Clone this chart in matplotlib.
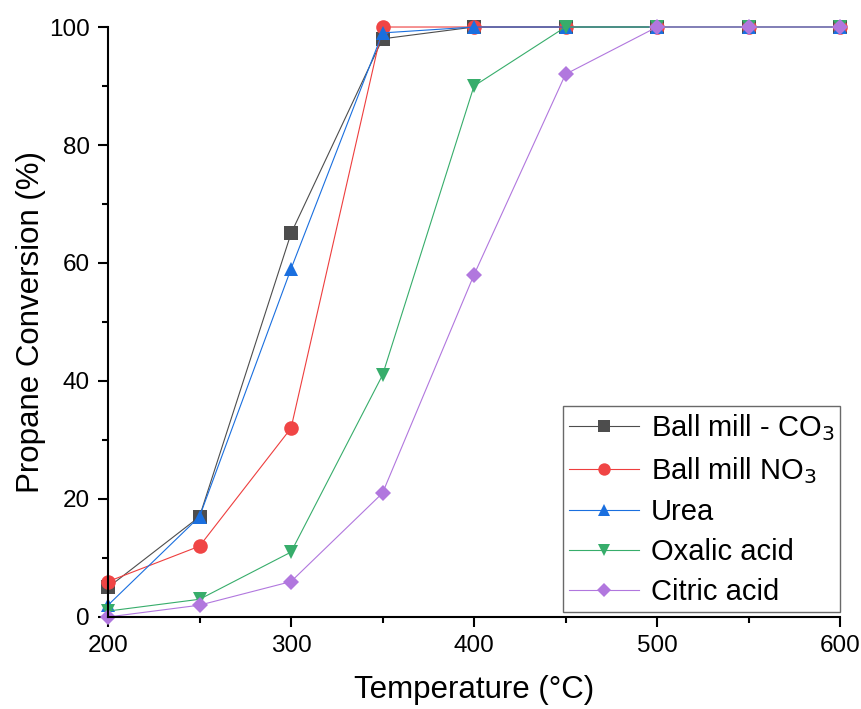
import matplotlib
matplotlib.use("Agg")
import matplotlib.pyplot as plt
from matplotlib.ticker import MultipleLocator

plt.rcParams['font.family'] = ['Liberation Sans', 'DejaVu Sans']

temperature = [200, 250, 300, 350, 400, 450, 500, 550, 600]
ball_mill_co3 = [5, 17, 65, 98, 100, 100, 100, 100, 100]
ball_mill_no3 = [6, 12, 32, 100, 100, 100, 100, 100, 100]
urea = [2, 17, 59, 99, 100, 100, 100, 100, 100]
oxalic_acid = [1, 3, 11, 41, 90, 100, 100, 100, 100]
citric_acid = [0, 2, 6, 21, 58, 92, 100, 100, 100]

series = [
    (ball_mill_co3, 'Ball mill - CO$_3$', 's', '#4d4d4d', '#4d4d4d'),
    (ball_mill_no3, 'Ball mill NO$_3$', 'o', '#ee3e3e', '#f04545'),
    (urea, 'Urea', '^', '#1a6fdf', '#1a6fdf'),
    (oxalic_acid, 'Oxalic acid', 'v', '#37ad6b', '#37ad6b'),
    (citric_acid, 'Citric acid', 'D', '#b177de', '#b177de'),
]

fig = plt.figure(figsize=(8.62, 7.09), dpi=100)
ax = fig.add_axes([0.1253, 0.1298, 0.8492, 0.8321])

for vals, label, marker, lc, mc in series:
    ms = 8.5 if marker == 'D' else 10.5
    ax.plot(temperature, vals, color=lc, lw=0.8, marker=marker, ms=ms,
            mfc=mc, mec=mc, mew=0, label=label, clip_on=False)

ax.set_xlim(200, 600)
ax.set_ylim(0, 100)
ax.xaxis.set_major_locator(MultipleLocator(100))
ax.xaxis.set_minor_locator(MultipleLocator(50))
ax.yaxis.set_major_locator(MultipleLocator(20))
ax.yaxis.set_minor_locator(MultipleLocator(10))

for s in ['top', 'right']:
    ax.spines[s].set_visible(False)
for s in ['left', 'bottom']:
    ax.spines[s].set_linewidth(1.5)

ax.tick_params(which='major', direction='out', length=7, width=1.5, labelsize=17.5, pad=6)
ax.tick_params(which='minor', direction='out', length=4, width=1.5)

ax.set_xlabel('Temperature (°C)', fontsize=22.5, labelpad=13)
ax.set_ylabel('Propane Conversion (%)', fontsize=22.5, labelpad=2)

leg = ax.legend(loc='lower right', bbox_to_anchor=(1.0, 0.008), fontsize=21,
                frameon=True, fancybox=False, edgecolor='#444444',
                handlelength=2.4, handletextpad=0.4, borderpad=0.2,
                labelspacing=0.42, borderaxespad=0, markerscale=0.85)
leg.get_frame().set_linewidth(1.0)

fig.savefig('out.png', dpi=100)
